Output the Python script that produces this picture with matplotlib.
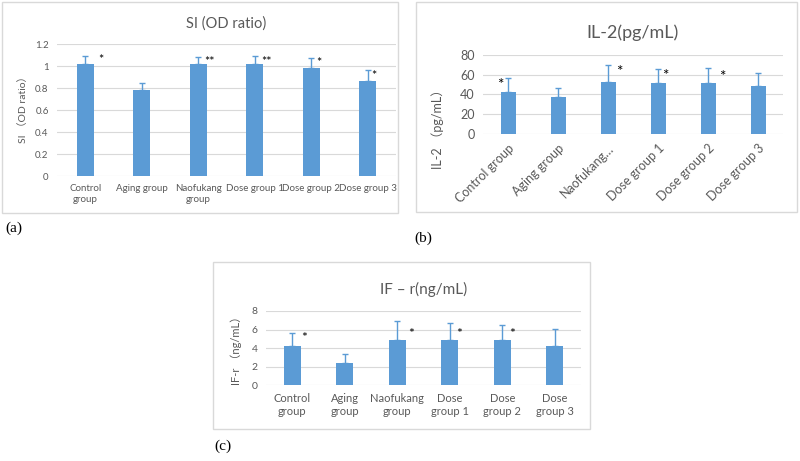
import matplotlib
matplotlib.use("Agg")
import matplotlib.pyplot as plt
from matplotlib.patches import Rectangle

W, H = 800, 461

# -----------------------------
# Data
# -----------------------------
si_labels = ["Control\ngroup", "Aging group", "Naofukang\ngroup", "Dose group 1", "Dose group 2", "Dose group 3"]
si_mean = [1.02, 0.78, 1.02, 1.02, 0.98, 0.865]
si_err = [0.07, 0.065, 0.065, 0.07, 0.095, 0.10]
si_stars = ["*", "", "**", "**", "*", "*"]
si_star_y = [1.05, 0, 1.04, 1.04, 1.03, 0.91]
si_star_dx = [0.27, 0, 0.2, 0.21, 0.14, 0.11]

il2_labels = ["Control group", "Aging group", "Naofukang…", "Dose group 1", "Dose group 2", "Dose group 3"]
il2_mean = [43, 37, 53, 52, 52, 49]
il2_err = [14, 10, 17, 14, 15, 13]
il2_stars = ["*", "", "*", "*", "*", ""]
il2_star_y = [50, 0, 63, 59, 58, 0]
il2_star_dx = [-0.16, 0, 0.22, 0.15, 0.28, 0]

ifr_labels = ["Control\ngroup", "Aging\ngroup", "Naofukang\ngroup", "Dose\ngroup 1", "Dose\ngroup 2", "Dose\ngroup 3"]
ifr_mean = [4.2, 2.4, 4.9, 4.85, 4.85, 4.2]
ifr_err = [1.4, 1.0, 2.0, 1.8, 1.65, 1.9]
ifr_stars = ["*", "", "*", "*", "*", ""]
ifr_star_y = [5.05, 0, 5.5, 5.5, 5.5, 0]
ifr_star_dx = [0.23, 0, 0.27, 0.17, 0.19, 0]

BLUE = "#5B9BD5"
GREY = "#595959"
GRID = "#D9D9D9"
plt.rcParams["font.family"] = ["Lato", "Noto Sans CJK SC", "DejaVu Sans"]

fig = plt.figure(figsize=(W / 100, H / 100), dpi=100)


def px_axes(x0, y0, x1, y1):
    return fig.add_axes([x0 / W, 1 - y1 / H, (x1 - x0) / W, (y1 - y0) / H])


def px_box(x0, y0, x1, y1):
    fig.patches.append(Rectangle((x0 / W, 1 - y1 / H), (x1 - x0) / W, (y1 - y0) / H,
                                 transform=fig.transFigure, fill=False,
                                 edgecolor=GRID, linewidth=1))


def panel(ax, labels, mean, err, stars, star_y, star_dx, ymax, step, ticklabels,
          title, ylabel, width, fs_tick, fs_y, fs_lab, fs_title, fs_star, rot=0):
    x = range(len(mean))
    ax.bar(x, mean, width=width, color=BLUE, zorder=3)
    ax.errorbar(x, mean, yerr=[[0] * len(err), err], fmt="none", ecolor=BLUE,
                elinewidth=1, capsize=2.5, capthick=1, zorder=3)
    for i, s in enumerate(stars):
        if s:
            ax.text(i + star_dx[i], star_y[i], s, ha="center", va="center",
                    fontsize=fs_star, color="black", zorder=4)
    ax.set_xlim(-0.5, len(mean) - 0.5)
    ax.set_ylim(0, ymax)
    ticks = [step * k for k in range(len(ticklabels))]
    ax.set_yticks(ticks)
    ax.set_yticklabels(ticklabels, color=GREY, fontsize=fs_y)
    ax.set_xticks(list(x))
    if rot:
        ax.set_xticklabels(labels, color=GREY, fontsize=fs_tick, rotation=rot,
                           ha="right", rotation_mode="anchor")
    else:
        ax.set_xticklabels(labels, color=GREY, fontsize=fs_tick, linespacing=1.2)
    ax.tick_params(length=0, pad=6)
    ax.grid(axis="y", color=GRID, linewidth=0.8, zorder=0)
    for sp in ax.spines.values():
        sp.set_visible(False)
    ax.set_title(title, color=GREY, fontsize=fs_title, pad=12)
    ax.set_ylabel(ylabel, color=GREY, fontsize=fs_lab)


# (a) SI
ax1 = px_axes(57, 44, 396, 176)
panel(ax1, si_labels, si_mean, si_err, si_stars, si_star_y, si_star_dx,
      1.2, 0.2, ["0", "0.2", "0.4", "0.6", "0.8", "1", "1.2"],
      "SI (OD ratio)", "SI （OD ratio）", 0.3,
      fs_tick=7, fs_y=7, fs_lab=7.5, fs_title=10.5, fs_star=9)
ax1.yaxis.set_label_coords(-0.086, 0.52)

# (b) IL-2
ax2 = px_axes(483, 55, 783, 134)
panel(ax2, il2_labels, il2_mean, il2_err, il2_stars, il2_star_y, il2_star_dx,
      80, 20, ["0", "20", "40", "60", "80"],
      "IL-2(pg/mL)", "IL-2 （pg/mL）", 0.3,
      fs_tick=9, fs_y=9, fs_lab=9, fs_title=13, fs_star=11, rot=45)
ax2.yaxis.set_label_coords(-0.13, 0.1)

# (c) IF-r
ax3 = px_axes(266, 311, 581, 385)
panel(ax3, ifr_labels, ifr_mean, ifr_err, ifr_stars, ifr_star_y, ifr_star_dx,
      8, 2, ["0", "2", "4", "6", "8"],
      "IF – r(ng/mL)", "IF-r （ng/mL）", 0.32,
      fs_tick=8, fs_y=7.5, fs_lab=8, fs_title=11, fs_star=10)
ax3.yaxis.set_label_coords(-0.075, 0.5)

# frames and panel letters
px_box(2, 2, 398, 213)
px_box(416, 2, 797, 212)
px_box(213, 262, 590, 429)
for s, (xp, yp) in {"(a)": (5, 228), "(b)": (414, 238), "(c)": (214, 446)}.items():
    fig.text(xp / W, 1 - yp / H, s, fontsize=11, family="Liberation Serif", va="center")

fig.savefig("out.png", dpi=100)
